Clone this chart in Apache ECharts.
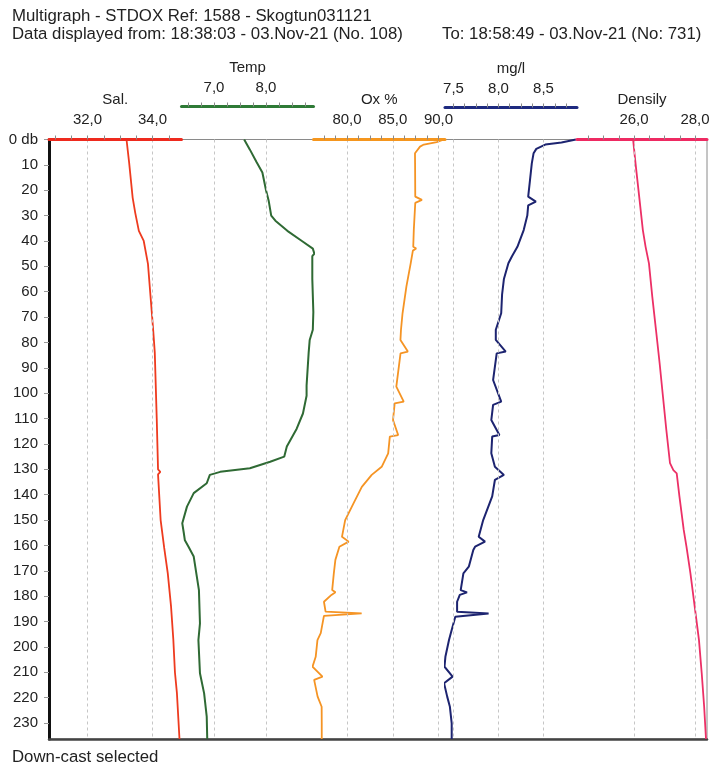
<!DOCTYPE html>
<html><head><meta charset="utf-8">
<script src="https://cdn.jsdelivr.net/npm/echarts@6/dist/echarts.min.js"></script>
<style>html,body{margin:0;padding:0;background:#fff}#c{width:714px;height:771px}</style>
</head><body><div id="c"></div>
<script>
// ---------- data ----------
const depthTicks = [0,10,20,30,40,50,60,70,80,90,100,110,120,130,140,150,160,170,180,190,200,210,220,230];
const depthLabels = ['0 db','10','20','30','40','50','60','70','80','90','100','110','120','130','140','150','160','170','180','190','200','210','220','230'];

const salTicks = [31,31.5,32,32.5,33,33.5,34,34.5];
const salLabels = [32,34];
const tempTicks = [6.5,6.75,7,7.25,7.5,7.75,8,8.25,8.5,8.75];
const tempLabels = [7,8];
const oxTicks = [77.5,78.75,80,81.25,82.5,83.75,85,86.25,87.5,88.75,90];
const oxLabels = [80,85,90];
const mgTicks = [7.5,7.625,7.75,7.875,8,8.125,8.25,8.375,8.5,8.625,8.75];
const mgLabels = [7.5,8,8.5];
const densTicks = [24.5,25,25.5,26,26.5,27,27.5,28];
const densLabels = [26,28];

const salDepth  = [0,9,23,29,36,40,49,62,75,84,110,130,131,132,150,161,171,184,197,210,218,236.3];
const salValues = [33.20,33.28,33.39,33.47,33.58,33.73,33.86,33.94,34.02,34.07,34.13,34.17,34.24,34.17,34.25,34.36,34.47,34.57,34.64,34.69,34.75,34.83];

const tempDepth  = [0,4,9,13,20,24,30,32,36,40,43,45,46,55,68,75,79,84,97,101,108,114,121,125,127,129.6,131,132.2,135.5,139.4,144.7,151.3,155.2,158,160.5,164.4,177.6,190.7,197.3,210.4,218.3,227.5,236.3];
const tempValues = [7.58,7.69,7.82,7.93,8.00,8.05,8.10,8.18,8.41,8.69,8.90,8.93,8.89,8.89,8.91,8.90,8.84,8.82,8.78,8.78,8.71,8.59,8.40,8.35,8.08,7.69,7.12,6.92,6.86,6.61,6.48,6.39,6.42,6.44,6.51,6.61,6.71,6.73,6.70,6.73,6.81,6.86,6.87];

const oxDepth  = [0,1,2,2.8,5.4,9.4,22.5,23.8,25,35.7,42.3,43,43.8,48.8,58,68.5,75,79,83.6,84.3,97.4,103.3,104,110.6,116.5,117.1,123.7,129,132.2,136.9,143.4,150,156.6,158.5,160.5,165.7,171,177.6,178.5,179.5,182.2,186.1,186.8,187.8,194.6,197.3,203.9,207.8,211.7,213,219.6,223.6,230.1,236.3];
const oxValues = [90.6,89.8,88.4,87.98,87.43,87.44,87.46,88.19,87.46,87.30,87.24,87.56,87.2,86.96,86.49,86.07,85.90,85.84,86.65,85.85,85.39,86.2,85.21,85.03,85.59,84.68,84.50,83.79,82.70,81.62,80.71,79.80,79.45,80.18,79.17,78.73,78.56,78.38,78.74,78.3,77.48,77.66,81.6,77.48,77.13,76.77,76.58,76.23,77.32,76.41,76.79,77.23,77.24,77.24];

const mgDepth  = [0,1.2,2,3.7,5.4,9.4,16,22.5,24.5,26,30,35.7,42.3,46,48.8,55,61,68.5,75,79,83.6,84.3,94.8,103.3,104.6,110.6,116.5,117.1,123.7,129,132.2,134.2,140.7,150,156.6,158.5,160.5,161.8,168.4,171,177.6,178.5,179.5,182.2,186.1,186.8,188.1,194.6,197.3,203.9,207.8,211.7,214.3,219.6,223.6,230.1,236.3];
const mgValues = [8.86,8.70,8.52,8.42,8.39,8.37,8.35,8.33,8.415,8.33,8.32,8.28,8.21,8.15,8.11,8.06,8.04,8.03,7.97,7.97,8.08,7.98,7.94,8.03,7.94,7.92,8.01,7.93,7.92,7.96,8.06,7.96,7.93,7.83,7.78,7.85,7.74,7.72,7.67,7.61,7.58,7.65,7.57,7.54,7.54,7.89,7.52,7.47,7.45,7.41,7.40,7.49,7.395,7.43,7.46,7.48,7.48];

const densDepth  = [0,9.4,22.5,35.7,42.3,48.8,62,75,88.2,101.4,114.5,127.6,130.3,131.6,140.8,153.9,160.5,171,184.1,197.3,210.4,223.6,236.3];
const densValues = [25.97,26.05,26.17,26.29,26.38,26.49,26.60,26.72,26.84,26.95,27.06,27.18,27.29,27.40,27.49,27.63,27.72,27.85,27.99,28.13,28.22,28.30,28.36];

// ---------- layout ----------
const FONT = '"Liberation Sans", Arial, sans-serif';
const TOP = 139.5, BOTTOM = 32, DMAX = 236.3;
const segs = [
  {left:49,    width:132.5, min:30.815, max:34.892, ticks:salTicks,  labels:salLabels,  name:'Sal.',    color:'#ee2a1e', offset:0,  nameGap:32, margin:12, series:[salDepth,salValues],  lc:'#ee3b1f', lw:1.8},
  {left:181.5, width:132,   min:6.375,  max:8.913,  ticks:tempTicks, labels:tempLabels, name:'Temp',    color:'#2e7a36', offset:33, nameGap:31, margin:11, series:[tempDepth,tempValues], lc:'#2f6a34', lw:2},
  {left:313.5, width:131.5, min:76.339, max:90.71,  ticks:oxTicks,   labels:oxLabels,   name:'Ox %',    color:'#f5961e', offset:0,  nameGap:32, margin:12, series:[oxDepth,oxValues],    lc:'#f59424', lw:1.8},
  {left:445,   width:132,   min:7.4056, max:8.8722, ticks:mgTicks,   labels:mgLabels,   name:'mg/l',    color:'#1e2a80', offset:32, nameGap:31, margin:11, series:[mgDepth,mgValues],    lc:'#1d2470', lw:2},
  {left:577,   width:130,   min:24.131, max:28.393, ticks:densTicks, labels:densLabels, name:'Densily', color:'#ee2a62', offset:0,  nameGap:31, margin:12, series:[densDepth,densValues], lc:'#ec3066', lw:1.8}
];
const fmt = v => v.toFixed(1).replace('.', ',');

const grids = [{left:49, right:7, top:TOP, bottom:BOTTOM, show:true, borderColor:'#8a8a8a', borderWidth:1, backgroundColor:'transparent'}];
const xAxes = [{type:'value', gridIndex:0, position:'bottom', min:0, max:1,
  axisLine:{show:true, onZero:false, lineStyle:{color:'#444', width:2.5}},
  axisTick:{show:false}, axisLabel:{show:false}, splitLine:{show:false}}];
const yAxes = [{type:'value', gridIndex:0, inverse:true, min:0, max:DMAX, position:'left',
  axisLine:{show:true, onZero:false, lineStyle:{color:'#111', width:3}},
  axisTick:{show:true, length:5, customValues:depthTicks, lineStyle:{color:'#999'}},
  axisLabel:{show:true, customValues:depthTicks, margin:11, color:'#222', fontSize:15, fontFamily:FONT,
    formatter: v => depthLabels[depthTicks.indexOf(v)]},
  splitLine:{show:false}}];
const series = [];

segs.forEach((s, k) => {
  const i = k + 1;
  grids.push({left:s.left, width:s.width, top:TOP, bottom:BOTTOM, show:false});
  xAxes.push({
    type:'value', gridIndex:i, position:'top', min:s.min, max:s.max, offset:s.offset,
    name:s.name, nameLocation:'middle', nameGap:s.nameGap,
    nameTextStyle:{color:'#222', fontSize:15, fontFamily:FONT},
    axisLine:{show:true, onZero:false, lineStyle:{color:s.color, width:3}},
    axisTick:{show:true, inside:false, length:4, customValues:s.ticks, lineStyle:{color:'#8a8a8a', width:1}},
    axisLabel:{show:true, customValues:s.labels, margin:s.margin, color:'#222', fontSize:15, fontFamily:FONT, formatter:fmt},
    splitLine:{show:true, lineStyle:{type:[3,3], width:1,
      color:s.ticks.map(t => s.labels.some(l => Math.abs(l - t) < 1e-9) ? '#c6c6c6' : 'rgba(0,0,0,0)')}},
    z:5
  });
  yAxes.push({type:'value', gridIndex:i, inverse:true, min:0, max:DMAX, show:false});
  const [dep, val] = s.series;
  series.push({
    type:'line', xAxisIndex:i, yAxisIndex:i, name:s.name, clip:false,
    symbol:'none', showSymbol:false, animation:false, z:4,
    lineStyle:{color:s.lc, width:s.lw},
    data: dep.map((d, j) => [val[j], d])
  });
});

const tStyle = {color:'#222', fontSize:16.8, fontWeight:'normal', fontFamily:FONT};
const option = {
  animation:false,
  backgroundColor:'#fff',
  title:[
    {text:'Multigraph - STDOX Ref: 1588 - Skogtun031121', left:12, top:8, padding:0, textStyle:tStyle},
    {text:'Data displayed from: 18:38:03 - 03.Nov-21 (No. 108)', left:12, top:26, padding:0, textStyle:tStyle},
    {text:'To: 18:58:49 - 03.Nov-21 (No: 731)', left:442, top:26, padding:0, textStyle:tStyle},
    {text:'Down-cast selected', left:12, top:749, padding:0, textStyle:tStyle}
  ],
  grid:grids, xAxis:xAxes, yAxis:yAxes, series:series
};
const chart = echarts.init(document.getElementById('c'), null, {renderer:'canvas'});
chart.setOption(option);
</script>
</body></html>
